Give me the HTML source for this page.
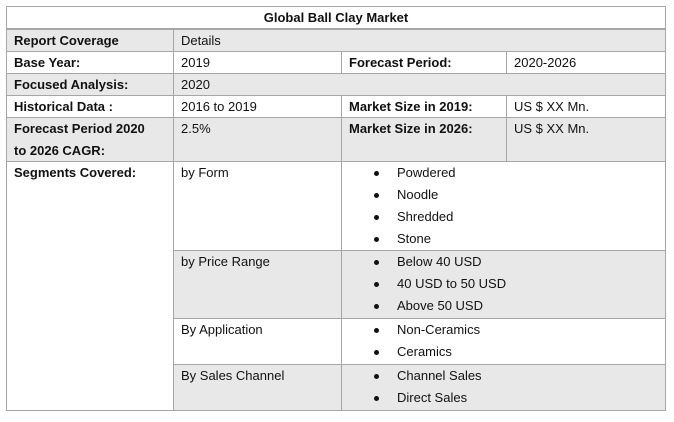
<!DOCTYPE html>
<html><head><meta charset="utf-8"><style>
html,body{margin:0;padding:0;background:#fff;width:674px;height:422px;overflow:hidden}
body{position:relative;font-family:"Liberation Sans",sans-serif;font-size:13px;color:#111}
.c{position:absolute;box-sizing:border-box;border:1px solid #a6a6a6;padding:0 0 0 7px;line-height:22px;white-space:nowrap}
.g{background:#e8e8e8}
b{font-weight:bold}
.li{position:relative;padding-left:55px;height:22px}
.li:before{content:"";position:absolute;left:32px;top:9px;width:5px;height:5px;border-radius:50%;background:#111}
</style></head><body>
<div class="c" style="left:6px;top:6px;width:660px;height:24px;text-align:center;padding:0;border-bottom:2px solid #a6a6a6"><b>Global Ball Clay Market</b></div>
<div class="c g" style="left:6px;top:28px;width:168px;height:24px;border-top:2px solid #a6a6a6"><b>Report Coverage</b></div>
<div class="c g" style="left:173px;top:28px;width:493px;height:24px;border-top:2px solid #a6a6a6">Details</div>
<div class="c" style="left:6px;top:51px;width:168px;height:23px"><b>Base Year:</b></div>
<div class="c" style="left:173px;top:51px;width:169px;height:23px">2019</div>
<div class="c" style="left:341px;top:51px;width:166px;height:23px"><b>Forecast Period:</b></div>
<div class="c" style="left:506px;top:51px;width:160px;height:23px">2020-2026</div>
<div class="c g" style="left:6px;top:73px;width:168px;height:23px"><b>Focused Analysis:</b></div>
<div class="c g" style="left:173px;top:73px;width:493px;height:23px">2020</div>
<div class="c" style="left:6px;top:95px;width:168px;height:23px"><b>Historical Data :</b></div>
<div class="c" style="left:173px;top:95px;width:169px;height:23px">2016 to 2019</div>
<div class="c" style="left:341px;top:95px;width:166px;height:23px"><b>Market Size in 2019:</b></div>
<div class="c" style="left:506px;top:95px;width:160px;height:23px">US $ XX Mn.</div>
<div class="c g" style="left:6px;top:117px;width:168px;height:45px"><b>Forecast Period 2020<br>to 2026 CAGR:</b></div>
<div class="c g" style="left:173px;top:117px;width:169px;height:45px">2.5%</div>
<div class="c g" style="left:341px;top:117px;width:166px;height:45px"><b>Market Size in 2026:</b></div>
<div class="c g" style="left:506px;top:117px;width:160px;height:45px">US $ XX Mn.</div>
<div class="c" style="left:6px;top:161px;width:168px;height:250px"><b>Segments Covered:</b></div>
<div class="c" style="left:173px;top:161px;width:169px;height:90px">by Form</div>
<div class="c" style="left:341px;top:161px;width:325px;height:90px;padding:0">
<div class="li">Powdered</div><div class="li">Noodle</div><div class="li">Shredded</div><div class="li">Stone</div></div>
<div class="c g" style="left:173px;top:250px;width:169px;height:69px">by Price Range</div>
<div class="c g" style="left:341px;top:250px;width:325px;height:69px;padding:0">
<div class="li">Below 40 USD</div><div class="li">40 USD to 50 USD</div><div class="li">Above 50 USD</div></div>
<div class="c" style="left:173px;top:318px;width:169px;height:47px">By Application</div>
<div class="c" style="left:341px;top:318px;width:325px;height:47px;padding:0">
<div class="li">Non-Ceramics</div><div class="li">Ceramics</div></div>
<div class="c g" style="left:173px;top:364px;width:169px;height:47px">By Sales Channel</div>
<div class="c g" style="left:341px;top:364px;width:325px;height:47px;padding:0">
<div class="li">Channel Sales</div><div class="li">Direct Sales</div></div>
</body></html>
